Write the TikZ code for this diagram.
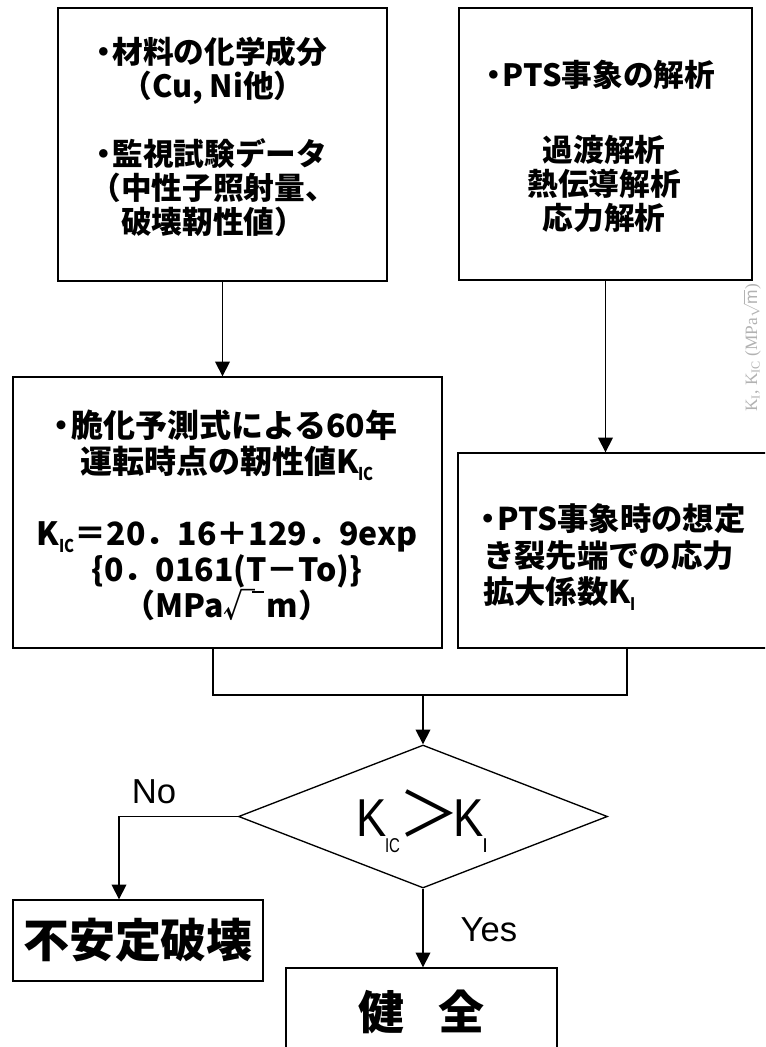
\documentclass[tikz,border=0pt]{standalone}
\usepackage{fontspec}
\usepackage{graphicx}
\usetikzlibrary{shapes.geometric,arrows.meta}
\setmainfont{Liberation Sans}
\newfontfamily\jp{Noto Sans CJK JP}
\newfontfamily\sideserif{Liberation Serif}
\newcommand{\bul}{\makebox[0.45em][l]{\hspace{-0.35em}・}}
\newcommand{\narrowK}{\scalebox{0.85}[1]{K}}
\newcommand{\lowsub}[1]{\raisebox{-0.22em}{\fontsize{0.55em}{0.55em}\selectfont\scalebox{0.85}[1]{#1}}}
\begin{document}
\begin{tikzpicture}[x=0.75pt,y=-0.75pt,
  box/.style={draw, line width=1pt, inner sep=0pt},
  jt/.style={font={\jp\bfseries\fontsize{23pt}{25.5pt}\selectfont}, align=center, inner sep=0pt},
  jtb/.style={font={\jp\bfseries\fontsize{24pt}{27pt}\selectfont}, align=center, inner sep=0pt},
  jtc/.style={font={\jp\bfseries\fontsize{23.5pt}{27.4pt}\selectfont}, align=left, inner sep=0pt},
  big/.style={font={\jp\bfseries\fontsize{34.5pt}{36pt}\selectfont}, inner sep=0pt},
  lab/.style={font={\fontsize{26pt}{26pt}\selectfont}, inner sep=0pt},
  arr/.style={-{Triangle[width=11pt,length=11pt]}, line width=1pt},
  ln/.style={line width=1pt}]
\useasboundingbox (0,0) rectangle (765,1047);
\clip (0,0) rectangle (765,1047);

% boxes
\node[box, minimum width=246.75pt, minimum height=204.75pt] (b1) at (222.5,144.5) {};
\node[jt] (t1) at (213,137) {\bul 材料の化学成分\\（Cu, Ni他）\\[25.5pt]\bul 監視試験データ\\（中性子照射量、\\破壊靭性値）};

\node[box, minimum width=219.75pt, minimum height=204pt] (b2) at (605.5,144) {};
\node[jt] (t2a) at (602,75) {\bul PTS事象の解析};
\node[jt] (t2b) at (604,184) {過渡解析\\熱伝導解析\\応力解析};

\node[box, minimum width=321.75pt, minimum height=203.25pt] (b3) at (227.5,512.5) {};
\node[jtb] (t3) at (227,515) {\bul 脆化予測式による60年\\運転時点の靭性値K\lowsub{IC}\\[27pt]K\lowsub{IC}＝20．16＋129．9exp\\\{0．0161(T－To)\}\\（MPa√\kern-0.12em\rule[0.76em]{0.36em}{0.06em}\kern0.1em m）};

\node[box, minimum width=253.5pt, minimum height=146.25pt] (b4) at (627,550.5) {};
\node[jtc, anchor=west] (t4) at (483,557) {\bul PTS事象時の想定\\き裂先端での応力\\拡大係数K\lowsub{I}};

% decision
\node[draw, diamond, line width=1pt, minimum width=276.75pt, minimum height=107.25pt, inner sep=0pt] (d) at (423,816.5) {};
\node[font={\fontsize{40pt}{40pt}\selectfont}, inner sep=0pt] (dt) at (422,821) {\narrowK\kern-1pt\raisebox{-0.3em}{\fontsize{15pt}{15pt}\selectfont\scalebox{0.75}[1]{IC}}\kern-1pt{\jp\fontsize{46pt}{46pt}\selectfont ＞}\kern-5pt\narrowK\kern-1pt\raisebox{-0.3em}{\fontsize{15pt}{15pt}\selectfont I}};

\node[box, minimum width=187.5pt, minimum height=60.75pt, big] (fail) at (138,940.5) {不安定破壊};
\node[box, minimum width=203.25pt, minimum height=76.5pt] (ok) at (421.5,1019) {};
\node[big] (okt) at (421.5,1012) {健\hspace{0.75em}全};

\node[lab] (no) at (154,792) {No};
\node[lab] (yes) at (489,930) {Yes};

% faint side text
\node[rotate=90, text=gray!60, font={\sideserif\fontsize{13pt}{13pt}\selectfont}, inner sep=0pt] (side) at (752,348) {K\textsubscript{I}, K\textsubscript{IC} (MPa$\sqrt{\mathrm{m}}$)};

% connectors
\coordinate (m1) at (213,695);
\coordinate (m2) at (627,695);
\coordinate (mc) at (423,695);
\coordinate (nc) at (119,817);
\draw[arr] (b1.south) -- (b1.south |- b3.north);
\draw[arr] (b2.south) -- (b2.south |- b4.north);
\draw[ln] (b3.south -| m1) -- (m1) -- (m2) -- (b4.south -| m2);
\draw[arr] (mc) -- (d.north);
\draw[arr] (d.west) -- (d.west -| nc) -- (nc |- fail.north);
\draw[arr] (d.south) -- (d.south |- ok.north);
\end{tikzpicture}
\end{document}
